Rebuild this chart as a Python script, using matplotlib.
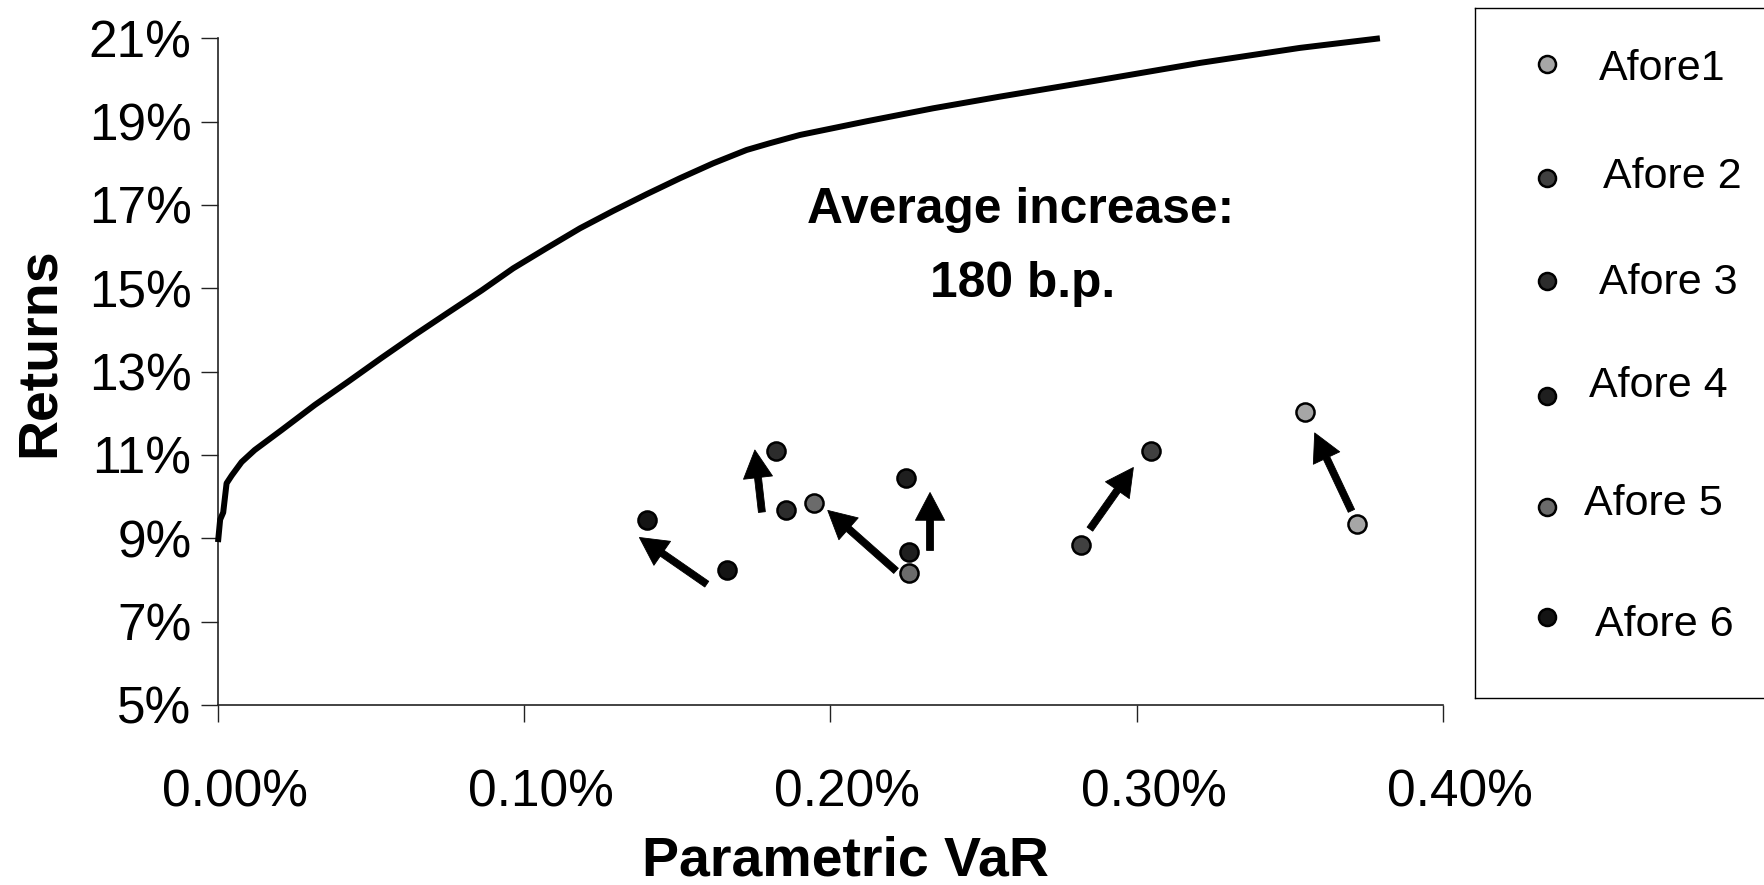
import matplotlib
matplotlib.use("Agg")
import matplotlib.pyplot as plt
from matplotlib.transforms import ScaledTranslation

# ---------------- data ----------------
# efficient frontier (Parametric VaR in %, return in %)
frontier_var = [0.0, 0.0007, 0.0017, 0.0028, 0.0045, 0.0077, 0.0120, 0.0208,
                0.0316, 0.0425, 0.0534, 0.0642, 0.0752, 0.0861, 0.0964, 0.1072,
                0.1182, 0.1291, 0.1400, 0.1508, 0.1617, 0.1726, 0.1801, 0.190,
                0.2119, 0.2335, 0.2553, 0.288, 0.3207, 0.3533, 0.3794]
frontier_ret = [8.91, 9.45, 9.62, 10.32, 10.51, 10.83, 11.12, 11.60,
                12.20, 12.76, 13.33, 13.88, 14.42, 14.95, 15.48, 15.96,
                16.44, 16.86, 17.26, 17.64, 18.00, 18.32, 18.48, 18.68,
                19.01, 19.32, 19.60, 20.0, 20.41, 20.77, 21.0]

afore_names = ["Afore1", "Afore 2", "Afore 3", "Afore 4", "Afore 5", "Afore 6"]
afore_colors = ["#a6a6a6", "#404040", "#2c2c2c", "#1f1f1f", "#6b6b6b", "#141414"]
# current portfolio
old_var = [0.3720, 0.2817, 0.1854, 0.2255, 0.2255, 0.1661]
old_ret = [9.34, 8.84, 9.67, 8.67, 8.17, 8.25]
# optimised portfolio
new_var = [0.3550, 0.3046, 0.1821, 0.2246, 0.1947, 0.1400]
new_ret = [12.03, 11.10, 11.10, 10.44, 9.85, 9.43]
# arrows (tail -> tip)
arrow_tail_var = [0.3701, 0.2847, 0.1776, 0.2325, 0.2214, 0.1596]
arrow_tail_ret = [9.66, 9.22, 9.63, 8.71, 8.22, 7.90]
arrow_tip_var = [0.3581, 0.2989, 0.1753, 0.2325, 0.1991, 0.1376]
arrow_tip_ret = [11.53, 10.70, 11.12, 10.10, 9.67, 9.02]

x_ticks = [0.0, 0.1, 0.2, 0.3, 0.4]
y_ticks = [5, 7, 9, 11, 13, 15, 17, 19, 21]
annotation_lines = ["Average increase:", "180 b.p."]

# ---------------- figure ----------------
W, H = 1765, 885
fig = plt.figure(figsize=(W / 100, H / 100), dpi=100)
FONT = "Liberation Sans"

ax_l, ax_r, ax_t, ax_b = 218, 1443, 38.3, 705
ax = fig.add_axes([ax_l / W, 1 - ax_b / H, (ax_r - ax_l) / W, (ax_b - ax_t) / H])

ax.plot(frontier_var, frontier_ret, color="black", lw=4.3,
        solid_capstyle="butt", solid_joinstyle="round", clip_on=False, zorder=3)

for tv, tr, hv, hr in zip(arrow_tail_var, arrow_tail_ret, arrow_tip_var, arrow_tip_ret):
    ax.annotate("", xy=(hv, hr), xytext=(tv, tr),
                arrowprops=dict(arrowstyle="simple,head_length=2.0,head_width=2.1,tail_width=0.5",
                                mutation_scale=10, fc="black", ec="black", lw=0.6,
                                shrinkA=0, shrinkB=0), zorder=4)

for i in range(len(afore_names)):
    ax.scatter([old_var[i], new_var[i]], [old_ret[i], new_ret[i]], s=170,
               color=afore_colors[i], edgecolors="black", linewidths=1.8, zorder=5)

ax.set_xlim(0, 0.4)
ax.set_ylim(5, 21)
ax.set_xticks(x_ticks)
ax.set_xticklabels([f"{v:.2f}%" for v in x_ticks], fontfamily=FONT, fontsize=37)
ax.set_yticks(y_ticks)
ax.set_yticklabels([f"{v}%" for v in y_ticks], fontfamily=FONT, fontsize=37)
ax.spines["top"].set_visible(False)
ax.spines["right"].set_visible(False)
for s in ("left", "bottom"):
    ax.spines[s].set_linewidth(1.2)
    ax.spines[s].set_color("#222222")
ax.tick_params(axis="x", direction="out", length=12, width=1.0, pad=34, colors="#222222", labelcolor="black")
ax.tick_params(axis="y", direction="out", length=12, width=1.0, pad=7, colors="#222222", labelcolor="black")
shift = ScaledTranslation(17 / 100, 0, fig.dpi_scale_trans)
for lab in ax.get_xticklabels():
    lab.set_transform(lab.get_transform() + shift)
ax.patch.set_alpha(0)

fig.text(845 / W, 1 - 876 / H, "Parametric VaR", ha="center", va="baseline",
         fontfamily=FONT, fontweight="bold", fontsize=40)
fig.text(54 / W, 1 - 352 / H, "Returns", ha="center", va="baseline", rotation=90,
         rotation_mode="anchor", fontfamily=FONT, fontweight="bold", fontsize=40)

fig.text(1021 / W, 1 - 210 / H, annotation_lines[0], ha="center", va="center",
         fontfamily=FONT, fontweight="bold", fontsize=35.8)
fig.text(1023 / W, 1 - 284 / H, annotation_lines[1], ha="center", va="center",
         fontfamily=FONT, fontweight="bold", fontsize=35.8)

# legend box
lg_l, lg_t, lg_b = 1475, 8, 698
lax = fig.add_axes([lg_l / W, 1 - lg_b / H, (W + 20 - lg_l) / W, (lg_b - lg_t) / H])
lax.set_xlim(lg_l, W + 20)
lax.set_ylim(lg_b, lg_t)
lax.set_xticks([])
lax.set_yticks([])
for s in lax.spines.values():
    s.set_linewidth(1.0)
    s.set_color("black")
mk_x = 1547
mk_y = [64, 178, 281, 396, 507, 617]
txt_x = [1662, 1672, 1668, 1658, 1653, 1664]
txt_y = [69, 177, 283, 386, 504, 625]
for i, name in enumerate(afore_names):
    lax.scatter([mk_x], [mk_y[i]], s=150, color=afore_colors[i], edgecolors="black",
                linewidths=1.8, zorder=5)
    lax.text(txt_x[i], txt_y[i], name, ha="center", va="center", fontfamily=FONT, fontsize=31)

fig.savefig("out.png", dpi=100)
